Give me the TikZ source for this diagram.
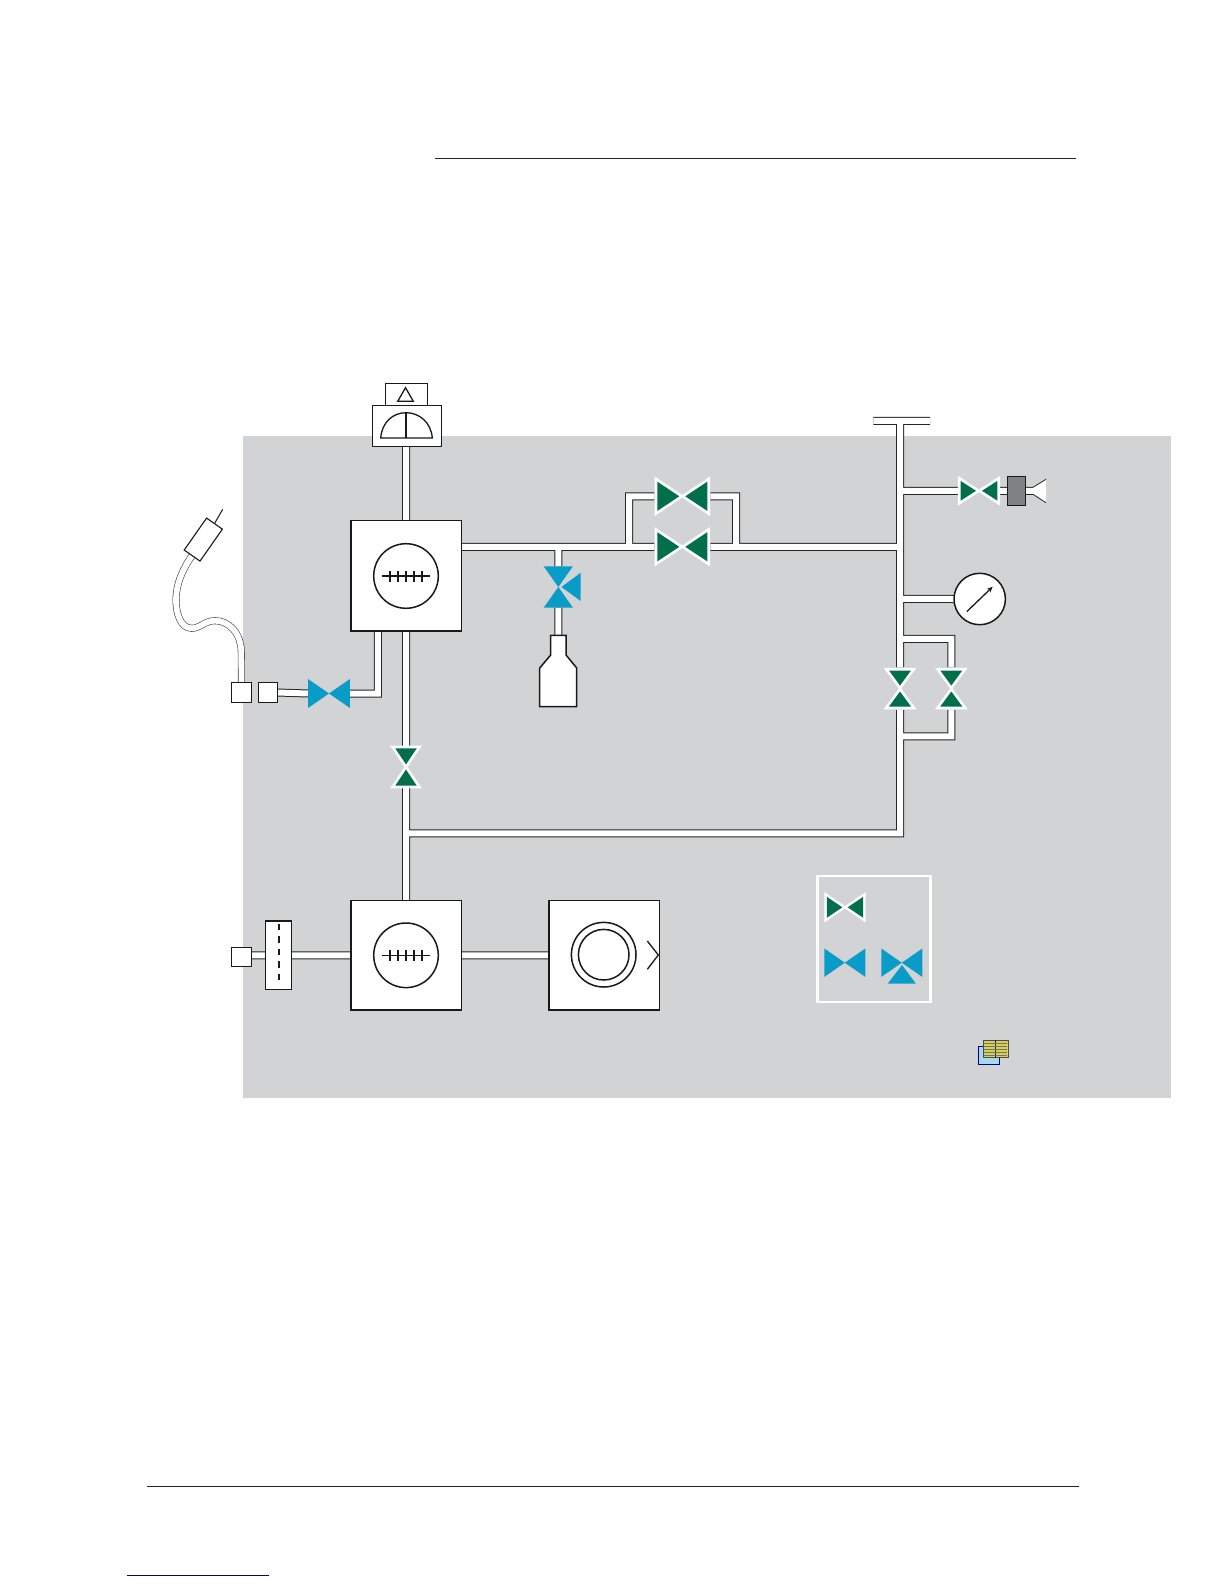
\documentclass[tikz,border=0pt]{standalone}
\usetikzlibrary{arrows.meta}
\definecolor{panelgray}{HTML}{D1D3D4}
\definecolor{vgreen}{HTML}{006F4A}
\definecolor{vblue}{HTML}{0A9CC8}
\definecolor{camgray}{HTML}{808285}
\definecolor{bookyellow}{HTML}{D8D050}
\definecolor{bookblue}{HTML}{A8D8F0}
\def\px{0.02cm}
\pgfdeclarelayer{pipelayer}
\pgfsetlayers{pipelayer,main}
\tikzset{
  x=0.02cm,y=-0.02cm,
  pipeouter/.style={draw=black!85,line width=8*\px,line join=miter},
  pipeinner/.style={draw=white,line width=6*\px,line join=miter},
  whitebox/.style={draw=black!90,fill=white,line width=1.5*\px,inner sep=0pt,outer sep=0pt,rectangle},
  ringnode/.style={draw=black!90,fill=white,line width=1.5*\px,inner sep=0pt,outer sep=0pt,circle},
  fineline/.style={draw=black!90,line width=1.3*\px},
  valveslot/.style={inner sep=0pt,outer sep=0pt,rectangle},
  greenvalve/.style={fill=vgreen,preaction={draw=white,line width=5.5*\px,miter limit=10}},
  legendgreen/.style={fill=vgreen,preaction={draw=white,line width=5*\px,miter limit=10}},
  bluevalve/.style={fill=vblue},
}
% centre, rotation, half-gap, half-length, half-height, style
\newcommand\valvetie[6]{%
  \begin{scope}[shift={(#1)},rotate=#2]
    \path[#6] (-#3,0)--(-#4,-#5)--(-#4,#5)--cycle (#3,0)--(#4,-#5)--(#4,#5)--cycle;
  \end{scope}}
\newcommand\flowscale[1]{%
  \begin{scope}[shift={(#1)}]
    \draw[fineline,line width=1.5*\px] (-24.4,0)--(24.4,0);
    \foreach \t in {-16,-8,0,8,16} \draw[fineline,line width=1.5*\px] (\t,-5.5)--(\t,5.5);
  \end{scope}}
\begin{document}
\begin{tikzpicture}
\useasboundingbox (0,0) rectangle (1224,1584);

% page rules
\coordinate (ruleTa) at (435,159);   \coordinate (ruleTb) at (1076,159);
\coordinate (ruleBa) at (147,1486);  \coordinate (ruleBb) at (1079,1486);
\coordinate (ruleCa) at (127,1575);  \coordinate (ruleCb) at (269,1575);
\draw[black!85,line width=1*\px] (ruleTa)--(ruleTb);
\draw[black!85,line width=1*\px] (ruleBa)--(ruleBb);
\draw[blue!60!black,line width=1*\px] (ruleCa)--(ruleCb);

% equipment
\node[whitebox,minimum width=110.5*\px,minimum height=110.5*\px] (box1) at (406,575.8) {};
\node[whitebox,minimum width=110.5*\px,minimum height=109.5*\px] (box2) at (406,955.3) {};
\node[whitebox,minimum width=110.5*\px,minimum height=109.5*\px] (box3) at (604,955.3) {};
\node[ringnode,minimum size=64.6*\px] (meter1) at (406,576) {};
\node[ringnode,minimum size=64.6*\px] (meter2) at (406,955.3) {};
\flowscale{406,576}
\flowscale{406,955.3}
\node[ringnode,minimum size=64.6*\px] (ringA) at (603.7,954.7) {};
\node[ringnode,minimum size=50.6*\px] (ringB) at (603.7,954.7) {};
\coordinate (chevA) at (647.3,941); \coordinate (chevB) at (658.3,955); \coordinate (chevC) at (647.3,969.3);
\draw[fineline] (chevA)--(chevB)--(chevC);

\node[whitebox,minimum width=41.6*\px,minimum height=22*\px] (alarm) at (406.5,394.7) {};
\node[whitebox,minimum width=68.6*\px,minimum height=40.6*\px] (monitor) at (407,426) {};
\draw[fineline] (405.5,387.7)--(413.3,401.3)--(397.7,401.3)--cycle;
\draw[fineline] (380.7,438) .. controls (382,422) and (393,412.7) .. (406,412.7) .. controls (419,412.7) and (431,422) .. (432.3,438) -- cycle;
\draw[fineline] (406,412.7)--(406,438);

\node[whitebox,minimum width=19.6*\px,minimum height=19.6*\px] (sq1) at (241.5,692.5) {};
\node[whitebox,minimum width=18.6*\px,minimum height=19.6*\px] (sq2) at (268,692.5) {};
\node[whitebox,minimum width=19.6*\px,minimum height=18.6*\px] (sq3) at (241.5,957) {};
\node[whitebox,minimum width=25.6*\px,minimum height=68.3*\px] (strip) at (278.5,955.3) {};
\coordinate (dashA) at (279,923.5); \coordinate (dashB) at (279,985);
\draw[fineline,dash pattern=on 6.5*\px off 6*\px] (dashA)--(dashB);

\draw[whitebox] (550.7,635.3) -- (550.7,655) -- (539.7,668) -- (539.7,706.7) -- (576.7,706.7) -- (576.7,668) -- (566,655) -- (566,635.3) -- cycle;
\coordinate (bottleTop) at (558.3,635.3);

\node[whitebox,line width=1.1*\px,minimum width=39*\px,minimum height=19.3*\px,rotate=55] (plug) at (203.3,539.6) {};
\coordinate (plugWire) at (222.7,509.3);
\draw[black!90,line width=1*\px] (plug.east)--(plugWire);

\node[ringnode,line width=1.5*\px,minimum size=51.4*\px] (gauge) at (979.7,599) {};
\coordinate (needleA) at (966.7,611.7); \coordinate (needleB) at (992.7,586.7);
\draw[fineline,-{Stealth[length=6*\px,width=5*\px]}] (needleA)--(needleB);

\node[whitebox,fill=camgray,minimum width=18.4*\px,minimum height=29*\px] (cam) at (1016.5,490.8) {};
\coordinate (cone) at (1033,490.8);
\fill[white] (1033,487.3) -- (1046,479.3) -- (1046,502.7) -- (1033,494.3) -- cycle;
\draw[black!85,line width=0.8*\px] (1033,487.3)--(1046,479.3);
\draw[black!85,line width=0.8*\px] (1033,494.3)--(1046,502.7);

% valve slots (the pipes stop at them)
\node[valveslot,minimum width=56*\px,minimum height=40*\px] (vup) at (682.3,496.3) {};
\node[valveslot,minimum width=56*\px,minimum height=40*\px] (vlow) at (682.3,546.8) {};
\node[valveslot,minimum width=42*\px,minimum height=29*\px] (vsmall) at (979,490.8) {};
\node[valveslot,minimum width=30*\px,minimum height=43*\px] (vr1) at (900,688.5) {};
\node[valveslot,minimum width=30*\px,minimum height=43*\px] (vr2) at (951.3,688.5) {};
\node[valveslot,minimum width=30*\px,minimum height=42*\px] (vmid) at (406,767) {};
\node[valveslot,minimum width=41.6*\px,minimum height=29*\px] (vbl) at (329,693.5) {};
\node[valveslot,minimum width=30*\px,minimum height=41.4*\px] (vthree) at (558.3,587) {};

\coordinate (jA) at (558.3,546.8);
\coordinate (jB) at (629,546.8);
\coordinate (jC) at (736,546.8);
\coordinate (jD) at (900,546.8);
\coordinate (jE) at (406,833.3);
\coordinate (jF) at (900,833.3);
\coordinate (jG) at (900,490.8);
\coordinate (jH) at (900,598.9);
\coordinate (jI) at (900,638.8);
\coordinate (jJ) at (900,736.3);
\coordinate (teeL) at (873.3,420.8);
\coordinate (teeM) at (900,420.8);
\coordinate (teeR) at (930,420.8);
\coordinate (dropA) at (377.8,631);

\def\allpipes{
  (monitor.south -| box1.north)--(box1.north)
  (jA -| box1.east)--(vlow.west)
  (vlow.east)--(jD)
  (jB)|-(vup.west)
  (vup.east)-|(jC)
  (jA)--(vthree.north)
  (vthree.south)--(bottleTop)
  (box1.south)--(vmid.north)
  (vmid.south)--(box2.north)
  (jE)--(jF)--(vr1.south)
  (vr1.north)--(teeM)
  (teeL)--(teeR)
  (jG)--(vsmall.west)
  (vsmall.east)--(cam.west)
  (cam.east)--(cone)
  (jH)--(gauge.west)
  (jI)-|(vr2.north)
  (vr2.south)|-(jJ)
  (dropA)|-(vbl.east)
  (vbl.west)--(sq2.east)
  (box2.east)--(box3.west)
  (box2.west)--(strip.east)
  (strip.west)--(sq3.east |- strip.west)
}
\begin{pgfonlayer}{pipelayer}
  \fill[white] (0,0) rectangle (1224,1584);
  \fill[panelgray] (243,436) rectangle (1170.5,1098);
  \path[pipeouter] \allpipes;
  \path[pipeinner] \allpipes;
  % flexible hose
  \def\hose{(sq1.north)--(241.3,653) .. controls (241.3,632) and (228,620.7) .. (215,620.7)
     .. controls (205,620.7) and (200,628.3) .. (191.7,628.3)
     .. controls (180,628.3) and (176,612) .. (176,600)
     .. controls (176,585) and (182,570) .. (plug.west)}
  \draw[black!75,line width=7*\px] \hose;
  \draw[white,line width=5.8*\px] \hose;
\end{pgfonlayer}

% valves
\valvetie{vup.center}{0}{3}{25}{14.65}{greenvalve}
\valvetie{vlow.center}{0}{3}{25}{14.65}{greenvalve}
\valvetie{vsmall.center}{0}{3}{18.3}{9.85}{greenvalve}
\valvetie{vr1.center}{90}{3}{18}{11}{greenvalve}
\valvetie{vr2.center}{90}{3}{18}{11}{greenvalve}
\valvetie{vmid.center}{90}{2.6}{18.7}{10.8}{greenvalve}
\valvetie{vbl.center}{0}{0}{20.8}{14.4}{bluevalve}
\valvetie{vthree.center}{90}{0}{20.7}{14.6}{bluevalve}
\coordinate (vthreeSide) at (561.5,587);
\fill[vblue] (vthreeSide)--(580.7,572.7)--(580.7,601)--cycle;

% legend
\node[draw=white,line width=2.5*\px,minimum width=113*\px,minimum height=126.3*\px,inner sep=0pt] (legend) at (874.2,938.9) {};
\valvetie{845,907.3}{0}{2.7}{18.2}{10.5}{legendgreen}
\valvetie{844.8,962.7}{0}{0}{20.5}{14.2}{bluevalve}
\valvetie{901.8,962.7}{0}{0}{20.5}{14.2}{bluevalve}
\fill[vblue] (902,965)--(916,983.7)--(887.7,983.7)--cycle;

% book icon
\draw[fill=bookblue,draw=blue!55!black,line width=0.9*\px] (978.3,1046) rectangle (999.7,1064.3);
\draw[fill=bookyellow,draw=black!70,line width=0.8*\px] (983.3,1040) rectangle (1008,1057.3);
\draw[black!85,line width=1*\px] (995.6,1040)--(995.6,1058);
\foreach \yy in {1043,1046,1049,1052,1055}
  \draw[black!55,line width=0.6*\px] (984,\yy)--(1007.3,\yy);
\end{tikzpicture}
\end{document}
